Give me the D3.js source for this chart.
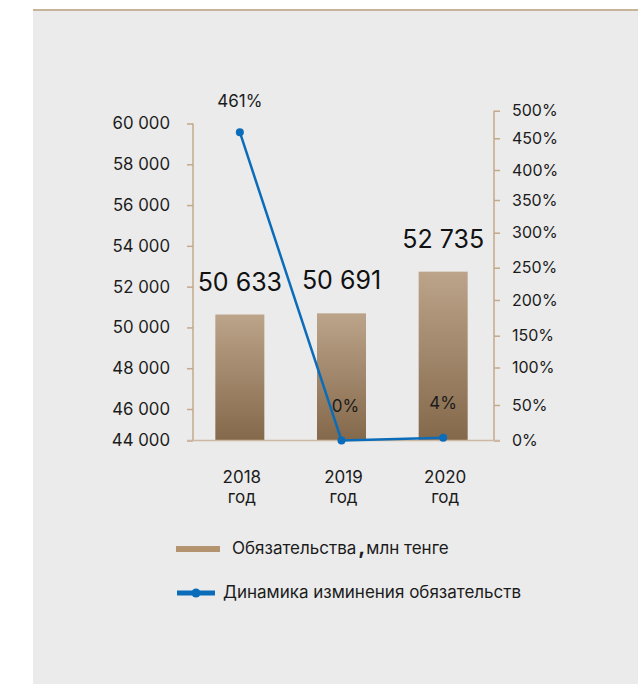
<!DOCTYPE html>
<html><head><meta charset="utf-8">
<script src="https://cdn.jsdelivr.net/npm/d3@7"></script>
<style>html,body{margin:0;padding:0;background:#fff;}svg{display:block;font-family:Inter,"Noto Sans",sans-serif;}</style>
</head><body>
<svg id="c" width="640" height="684"></svg>
<script>
const categories = ["2018", "2019", "2020"];
const catSub = "год";
const liabilities = [50633, 50691, 52735];
const liabilityLabels = ["50 633", "50 691", "52 735"];
const dynamics = [461, 0, 4];
const dynamicsLabels = ["461%", "0%", "4%"];
const leftTicks = [44000, 46000, 48000, 50000, 52000, 54000, 56000, 58000, 60000];
const rightTicks = [0, 50, 100, 150, 200, 250, 300, 350, 400, 450, 500];
const legendBar = "Обязательства";
const legendBarUnit = "млн тенге";
const legendLine = "Динамика изминения обязательств";

const svg = d3.select("#c");
const axisColor = "#c4a98a";
const txt = "#1b1b1b";

// panel
svg.append("rect").attr("x", 33).attr("y", 10).attr("width", 605).attr("height", 674).attr("fill", "#ebebeb");
svg.append("rect").attr("x", 33).attr("y", 9).attr("width", 605).attr("height", 2).attr("fill", "#c8b39b");

const defs = svg.append("defs");
const g = defs.append("linearGradient").attr("id", "barG").attr("x1", 0).attr("y1", 0).attr("x2", 0).attr("y2", 1);
g.append("stop").attr("offset", "0%").attr("stop-color", "#bca48a");
g.append("stop").attr("offset", "100%").attr("stop-color", "#84684a");

const x = d3.scalePoint().domain(categories).range([189, 494]).padding(0.5);
// left axis has a break between 44 000 and 46 000
const yL = d3.scaleLinear().domain([44000, 46000, 60000]).range([440.5, 409, 123.5]);
// right axis as drawn in the original
const yR = d3.scaleLinear().domain(rightTicks).range([440.5, 405, 367.5, 335.7, 300, 267.7, 232.7, 200, 170, 138.3, 110.7]);

// left axis
const la = svg.append("g").attr("transform", "translate(193,0)")
  .call(d3.axisLeft(yL).tickValues(leftTicks).tickSize(6).tickPadding(17)
    .tickFormat(d => d3.format(",")(d).replace(/,/g, " ")));
la.select(".domain").attr("stroke", axisColor).attr("stroke-width", 1.5).attr("d", "M0,123.5V440.5");
la.selectAll(".tick line").attr("stroke", axisColor).attr("stroke-width", 1.5);
la.selectAll(".tick text").attr("fill", txt).attr("font-size", 16.8).attr("font-family", "Inter, sans-serif");

// right axis
const ra = svg.append("g").attr("transform", "translate(494,0)")
  .call(d3.axisRight(yR).tickValues(rightTicks).tickSize(6).tickPadding(12).tickFormat(d => d + "%"));
ra.select(".domain").attr("stroke", axisColor).attr("stroke-width", 1.5).attr("d", "M0,110.7V440.5");
ra.selectAll(".tick line").attr("stroke", axisColor).attr("stroke-width", 1.5);
ra.selectAll(".tick text").attr("fill", txt).attr("font-size", 16).attr("font-family", "Inter, sans-serif");

// bars
const bw = 49;
svg.append("g").selectAll("rect").data(liabilities).join("rect")
  .attr("x", (d, i) => x(categories[i]) - bw / 2)
  .attr("y", d => yL(d))
  .attr("width", bw)
  .attr("height", d => yL(44000) - yL(d))
  .attr("fill", "url(#barG)");

// baseline
svg.append("line").attr("x1", 187).attr("x2", 500).attr("y1", yL(44000)).attr("y2", yL(44000))
  .attr("stroke", "#cdb9a1").attr("stroke-width", 1.5);

// bar labels
svg.append("g").selectAll("text").data(liabilities).join("text")
  .attr("x", (d, i) => x(categories[i]))
  .attr("y", (d, i) => Math.min(yL(d), yL(liabilities[0])) - 24)
  .attr("text-anchor", "middle").attr("font-size", 25).attr("fill", "#111")
  .text((d, i) => liabilityLabels[i]);

// line
const lineColor = "#0b6dba";
const line = d3.line().x((d, i) => x(categories[i])).y(d => yR(d));
svg.append("path").datum(dynamics).attr("d", line).attr("fill", "none")
  .attr("stroke", lineColor).attr("stroke-width", 2.5);
svg.append("g").selectAll("circle").data(dynamics).join("circle")
  .attr("cx", (d, i) => x(categories[i])).attr("cy", d => yR(d)).attr("r", 4).attr("fill", lineColor);
svg.append("g").selectAll("text").data(dynamics).join("text")
  .attr("x", (d, i) => x(categories[i]) + (i === 1 ? 4 : 0))
  .attr("y", d => yR(d) - (d > 100 ? 25 : 29))
  .attr("text-anchor", "middle").attr("font-size", 17).attr("fill", txt)
  .text((d, i) => dynamicsLabels[i]);

// category labels
const cl = svg.append("g").selectAll("text").data(categories).join("text")
  .attr("x", d => x(d) + 2).attr("y", 483)
  .attr("text-anchor", "middle").attr("font-size", 17).attr("fill", txt);
cl.append("tspan").text(d => d);
cl.append("tspan").attr("x", d => x(d) + 2).attr("dy", 20).text(catSub);

// legend
svg.append("rect").attr("x", 176).attr("y", 546).attr("width", 44).attr("height", 6).attr("fill", "#b39370");
const lt = svg.append("text").attr("x", 232).attr("y", 554).attr("font-size", 17).attr("fill", txt);
lt.append("tspan").text(legendBar);
lt.append("tspan").attr("font-weight", "bold").attr("font-size", 21).attr("dx", 2).text(",");
lt.append("tspan").attr("dx", 1).text(legendBarUnit);

svg.append("line").attr("x1", 177).attr("x2", 215).attr("y1", 593).attr("y2", 593)
  .attr("stroke", lineColor).attr("stroke-width", 5);
svg.append("circle").attr("cx", 196).attr("cy", 593).attr("r", 4.5).attr("fill", lineColor);
svg.append("text").attr("x", 223).attr("y", 598).attr("font-size", 17).attr("fill", txt).text(legendLine);
</script>
</body></html>
